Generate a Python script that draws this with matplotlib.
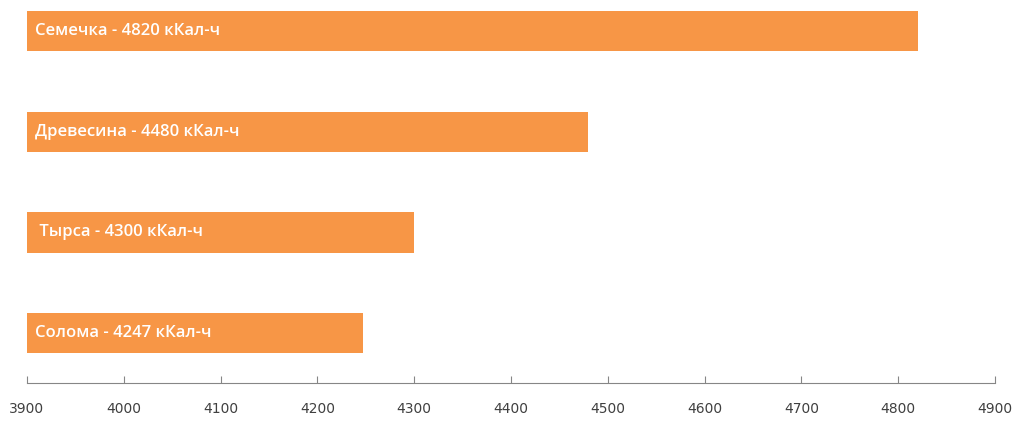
import matplotlib.pyplot as plt

# data
names = ['Солома', 'Тырса', 'Древесина', 'Семечка']
values = [4247, 4300, 4480, 4820]
labels = ['Солома - 4247 кКал-ч', ' Тырса - 4300 кКал-ч',
          'Древесина - 4480 кКал-ч', 'Семечка - 4820 кКал-ч']
xticks = [3900, 4000, 4100, 4200, 4300, 4400, 4500, 4600, 4700, 4800, 4900]

base = 3900
fig = plt.figure(figsize=(10.24, 4.28), dpi=100)
ax = fig.add_axes([27 / 1024, 45 / 428, 968 / 1024, 383 / 428])

pos = list(range(len(names)))
ax.barh(pos, [v - base for v in values], left=base, height=0.4, color='#F79646')

for p, lab in zip(pos, labels):
    ax.text(base + 8, p, lab, color='white', fontsize=12, fontweight='semibold',
            va='center', ha='left', family='Open Sans')

ax.set_xlim(3900, 4900)
ax.set_ylim(-0.497, 3.31)
ax.set_xticks(xticks)
ax.set_yticks([])
for s in ['top', 'right', 'left']:
    ax.spines[s].set_visible(False)
ax.spines['bottom'].set_color('#868686')
ax.tick_params(axis='x', direction='in', length=5, color='#868686',
               labelsize=10, labelcolor='#404040', pad=14)

fig.savefig('out.png', dpi=100)
